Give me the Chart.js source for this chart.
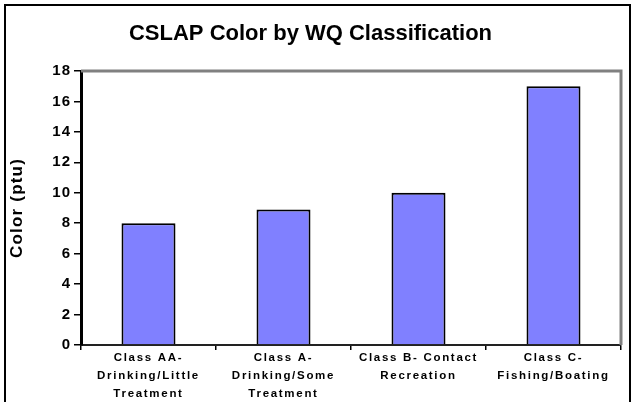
<!DOCTYPE html>
<html>
<head>
<meta charset="utf-8">
<script src="https://cdn.jsdelivr.net/npm/chart.js@4.4.0/dist/chart.umd.min.js"></script>
<style>
  html, body { margin: 0; padding: 0; background: #fff; }
  #wrap { position: relative; width: 632px; height: 402px; }
</style>
</head>
<body>
<div id="wrap"><canvas id="chart" width="632" height="402"></canvas></div>
<script>
// Data
const categories = [
  ["Class AA-", "Drinking/Little", "Treatment"],
  ["Class A-", "Drinking/Some", "Treatment"],
  ["Class B- Contact", "Recreation"],
  ["Class C-", "Fishing/Boating"],
];
const colorValues = [8, 8.9, 10, 17];
const yTicks = [0, 2, 4, 6, 8, 10, 12, 14, 16, 18];

const FONT = "Arial, 'Liberation Sans', sans-serif";

// canvas text has no letter spacing by default, the original labels are spaced out
function spaced(scale, px, titlePx) {
  if (scale._spaced) return;
  scale._spaced = true;
  const origDraw = scale.draw;
  scale.draw = function (area) {
    const ctx = this.ctx;
    ctx.save();
    ctx.letterSpacing = px;
    origDraw.call(this, area);
    ctx.restore();
  };
  if (titlePx) {
    const origTitle = scale.drawTitle;
    scale.drawTitle = function () {
      const ctx = this.ctx;
      ctx.save();
      ctx.letterSpacing = titlePx;
      origTitle.call(this);
      ctx.restore();
    };
  }
}

// gray frame on top/right of the plot area + outer chart border
const framePlugin = {
  id: "frame",
  beforeDatasetsDraw(chart) {
    const { ctx, chartArea: a } = chart;
    ctx.save();
    ctx.strokeStyle = "#808080";
    ctx.lineWidth = 3;
    ctx.beginPath();
    ctx.moveTo(a.left, a.top);
    ctx.lineTo(a.right, a.top);
    ctx.lineTo(a.right, a.bottom);
    ctx.stroke();
    ctx.restore();
  },
  afterDraw(chart) {
    const ctx = chart.ctx;
    ctx.save();
    ctx.strokeStyle = "#000";
    ctx.lineWidth = 2;
    ctx.beginPath();
    ctx.moveTo(5, chart.height + 5);
    ctx.lineTo(5, 5);
    ctx.lineTo(chart.width - 2, 5);
    ctx.lineTo(chart.width - 2, chart.height + 5);
    ctx.stroke();
    ctx.restore();
  },
};

const ctx = document.getElementById("chart").getContext("2d");

const chart = new Chart(ctx, {
  type: "bar",
  data: {
    labels: categories,
    datasets: [
      {
        label: "Color (ptu)",
        data: colorValues,
        backgroundColor: "#8080ff",
        borderColor: "#000000",
        borderWidth: 2,
        categoryPercentage: 1,
        barPercentage: 0.4,
      },
    ],
  },
  plugins: [framePlugin],
  options: {
    responsive: false,
    animation: false,
    layout: {
      padding: { left: 0, right: 11, top: 0, bottom: 0 },
    },
    plugins: {
      legend: { display: false },
      tooltip: { enabled: false },
      title: {
        display: true,
        text: "CSLAP Color by WQ Classification",
        color: "#000",
        font: { family: FONT, size: 22, weight: "bold" },
        padding: { top: 21, bottom: 23.6 },
      },
    },
    scales: {
      x: {
        grid: {
          offset: true,
          drawOnChartArea: false,
          drawTicks: true,
          tickLength: 5,
          color: "#000",
          lineWidth: 1.5,
        },
        border: { display: true, color: "#222", width: 2 },
        ticks: {
          color: "#000",
          padding: -1,
          maxRotation: 0,
          autoSkip: false,
          font: { family: FONT, size: 11.5, weight: "bold", lineHeight: "18px" },
        },
        afterFit(s) {
          s.height = 57;
          spaced(s, "1.7px");
        },
      },
      y: {
        min: 0,
        max: 18,
        grid: {
          drawOnChartArea: false,
          drawTicks: true,
          tickLength: 7,
          color: "#000",
          lineWidth: 1.5,
        },
        border: { display: true, color: "#000", width: 3 },
        ticks: {
          color: "#000",
          padding: 3,
          font: { family: FONT, size: 15, weight: "bold" },
        },
        afterBuildTicks(s) {
          s.ticks = yTicks.map((v) => ({ value: v }));
        },
        title: {
          display: true,
          text: "Color (ptu)",
          color: "#000",
          font: { family: FONT, size: 17, weight: "bold" },
          padding: { top: 7, bottom: 0 },
        },
        afterFit(s) {
          s.width = 81;
          spaced(s, "1px", "1.2px");
        },
      },
    },
  },
});
</script>
</body>
</html>
